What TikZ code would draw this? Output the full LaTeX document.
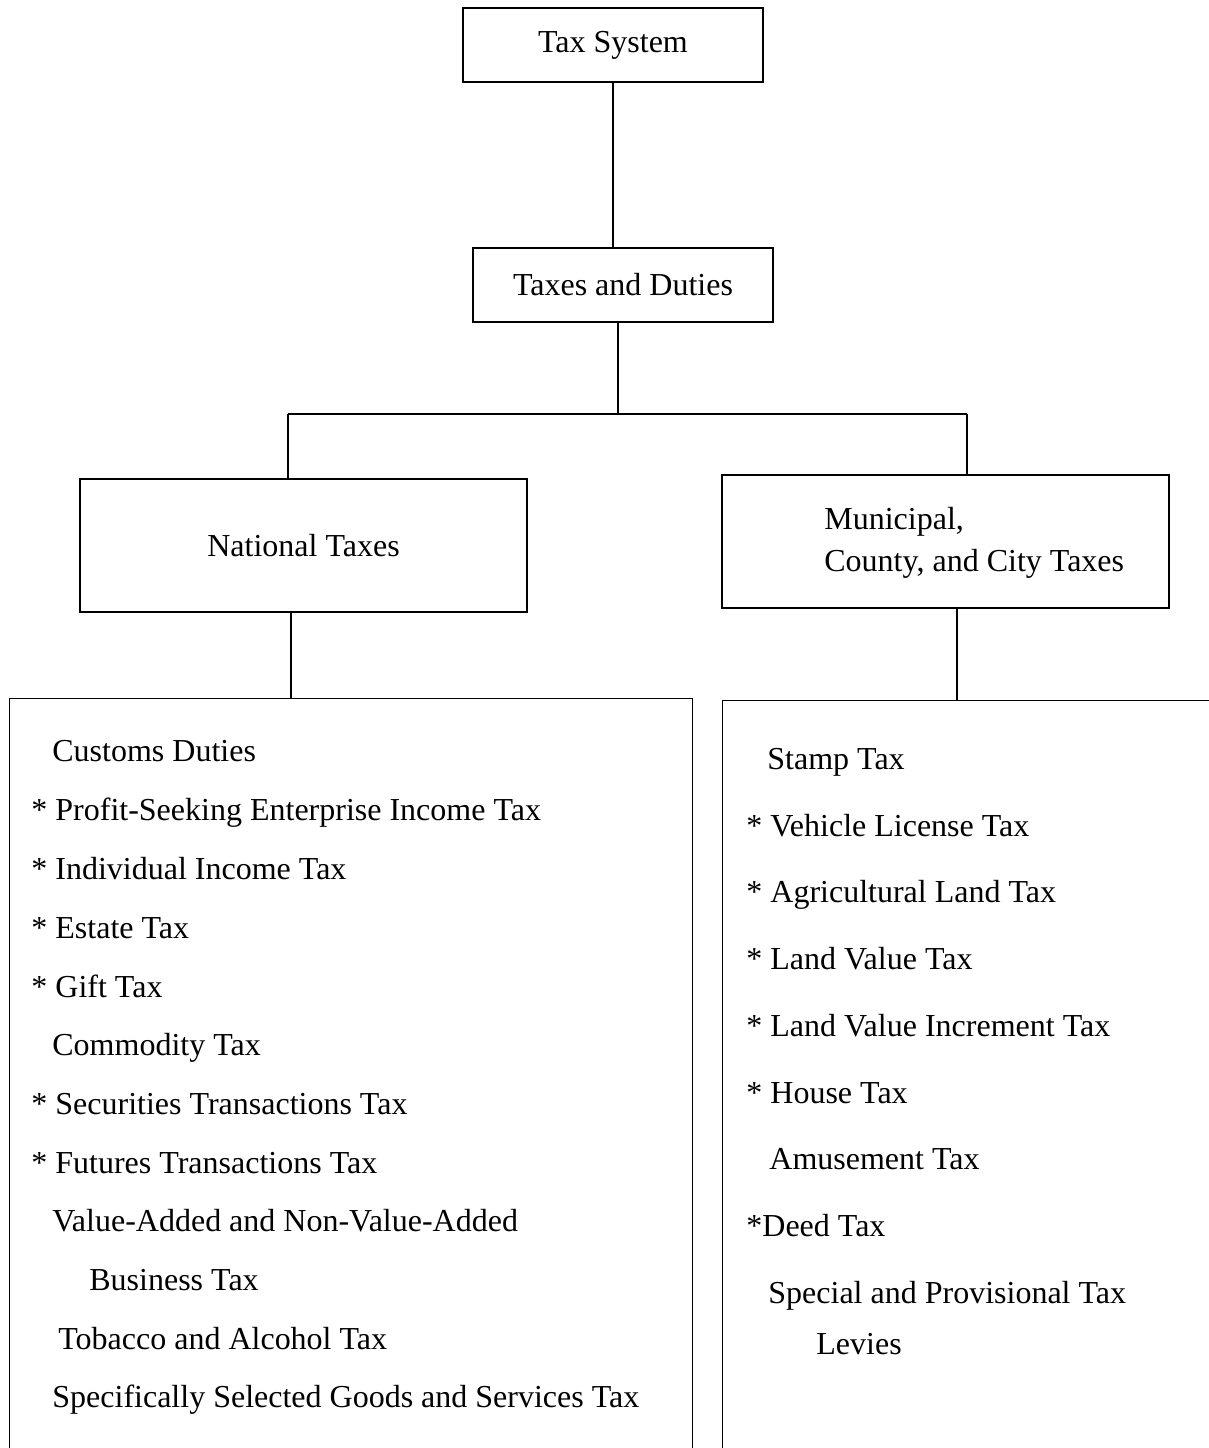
\documentclass[tikz,border=0pt]{standalone}
\usepackage{fontspec}
\setmainfont{Liberation Serif}
\usepackage{tikz}

\tikzset{
  taxbox/.style={draw, line width=0.8pt, inner sep=0pt, font=\fontsize{16pt}{21pt}\selectfont},
  taxitem/.style={anchor=base west, inner sep=0pt, font=\fontsize{16pt}{21pt}\selectfont},
  listframe/.style={inner sep=0pt, minimum height=385pt},
  link/.style={line width=0.8pt}
}

\begin{document}
\begin{tikzpicture}[x=0.5pt,y=-0.5pt]
    \clip (0,0) rectangle (1209,1448);
    \node[taxbox, minimum width=150pt, minimum height=37pt] (sys) at (613,45) {Tax System};
    \node[taxbox, minimum width=150pt, minimum height=37pt] (duties) at (623,285) {Taxes and Duties};
    \node[taxbox, minimum width=223.5pt, minimum height=66.5pt] (nat) at (303.5,545.5) {National Taxes};
    \node[taxbox, minimum width=223.5pt, minimum height=66.5pt] (mun) at (945.5,541.5) {};
    \node[taxitem, anchor=west, align=left] (muntext) at (824,543) {Municipal,\\County, and City Taxes};
    \node[listframe, minimum width=341pt] (natlist) at (351,1084) {};
    \node[listframe, minimum width=300pt] (munlist) at (1023,1086) {};
    \draw[link] (natlist.south west) -- (natlist.north west) -- (natlist.north east) -- (natlist.south east);
    \draw[link] (munlist.south west) -- (munlist.north west) -- (munlist.north east);
    % connectors
    \coordinate (split) at (618,414);
    \coordinate (natturn) at (288,414);
    \coordinate (munturn) at (967,414);
    \coordinate (natdrop) at (291,0);
    \coordinate (mundrop) at (957,0);
    \draw[link] (sys.south) -- (sys.south |- duties.north);
    \draw[link] (duties.south -| split) -- (split);
    \draw[link] (natturn) -- (munturn);
    \draw[link] (natturn) -- (natturn |- nat.north);
    \draw[link] (munturn) -- (munturn |- mun.north);
    \draw[link] (natdrop |- nat.south) -- (natdrop |- natlist.north);
    \draw[link] (mundrop |- mun.south) -- (mundrop |- munlist.north);
    % national taxes
    \node[taxitem] (customs) at (52,761) {Customs Duties};
    \node[taxitem] (profit) at (31,820) {* Profit-Seeking Enterprise Income Tax};
    \node[taxitem] (income) at (31,879) {* Individual Income Tax};
    \node[taxitem] (estate) at (31,938) {* Estate Tax};
    \node[taxitem] (gift) at (31,997) {* Gift Tax};
    \node[taxitem] (commodity) at (52,1055) {Commodity Tax};
    \node[taxitem] (securities) at (31,1114) {* Securities Transactions Tax};
    \node[taxitem] (futures) at (31,1173) {* Futures Transactions Tax};
    \node[taxitem] (vat) at (52,1231) {Value-Added and Non-Value-Added};
    \node[taxitem] (business) at (89,1290) {Business Tax};
    \node[taxitem] (tobacco) at (58,1349) {Tobacco and Alcohol Tax};
    \node[taxitem] (selected) at (52,1407) {Specifically Selected Goods and Services Tax};
    % local taxes
    \node[taxitem] (stamp) at (767,769) {Stamp Tax};
    \node[taxitem] (vehicle) at (746,836) {* Vehicle License Tax};
    \node[taxitem] (agri) at (746,902) {* Agricultural Land Tax};
    \node[taxitem] (landvalue) at (746,969) {* Land Value Tax};
    \node[taxitem] (increment) at (746,1036) {* Land Value Increment Tax};
    \node[taxitem] (house) at (746,1103) {* House Tax};
    \node[taxitem] (amusement) at (769,1169) {Amusement Tax};
    \node[taxitem] (deed) at (746,1236) {*Deed Tax};
    \node[taxitem] (special) at (768,1303) {Special and Provisional Tax};
    \node[taxitem] (levies) at (816,1354) {Levies};
\end{tikzpicture}
\end{document}
